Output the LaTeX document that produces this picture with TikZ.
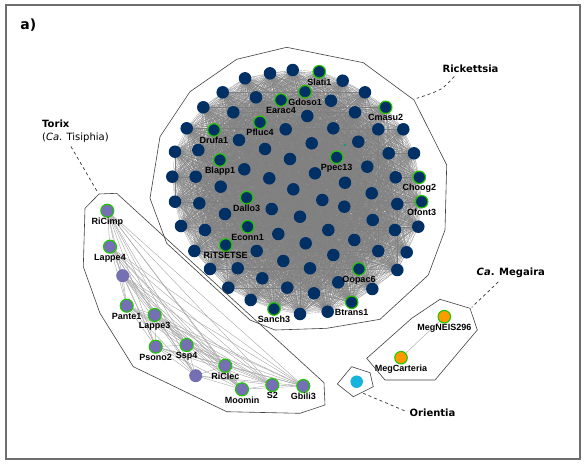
\documentclass[tikz,border=0pt]{standalone}
\usepackage{fontspec}
\setmainfont{DejaVu Sans}
\newfontfamily\arialfont{Liberation Sans}
\usepackage{tikz}
\usetikzlibrary{positioning,backgrounds}
\pgfdeclarelayer{background}
\pgfsetlayers{background,main}
\definecolor{rickblue}{RGB}{0,48,100}
\definecolor{torixpurple}{RGB}{117,112,179}
\definecolor{megorange}{RGB}{255,155,0}
\definecolor{orientcyan}{RGB}{20,180,220}
\definecolor{ringgreen}{RGB}{30,200,0}
\definecolor{dotgreen}{RGB}{27,158,119}
\definecolor{framegray}{RGB}{110,110,110}

\begin{document}
\begin{tikzpicture}[
  x=1pt, y=-1pt,
  label distance=-1pt,
  rnode/.style={circle,fill=rickblue,minimum size=12.5pt,inner sep=0pt},
  tnode/.style={circle,fill=torixpurple,minimum size=13pt,inner sep=0pt},
  mnode/.style={circle,fill=megorange,minimum size=12.5pt,inner sep=0pt},
  onode/.style={circle,fill=orientcyan,minimum size=12.5pt,inner sep=0pt},
  hl/.style={draw=ringgreen,line width=1.1pt},
  plain/.style={},
  nlabel/.style={font=\arialfont\bfseries\fontsize{9}{9}\selectfont,
    inner sep=1pt,text height=6.5pt,text depth=0pt},
  redge/.style={draw=black!50,line width=0.15pt},
  tedge/.style={draw=gray!70,line width=0.4pt},
  hull/.style={draw=black!75,line width=0.6pt},
  leader/.style={draw=black!80,dashed,line width=0.7pt},
  grouplabel/.style={font=\bfseries\fontsize{10}{12}\selectfont,inner sep=1pt}
]
\useasboundingbox (0,0) rectangle (586,464);
\draw[framegray,line width=2pt] (6,5) rectangle (580,459);
\node[font=\bfseries\fontsize{14}{16}\selectfont] (panel) at (28.3,25) {a)};

% Rickettsia
\foreach \x/\y [count=\i] in {
  270/73.3, 292.7/70, 342.7/80.7, 245/78.3, 222.7/92.3, 256/97.3,
  331/100.7, 365/92.3, 203.3/107.3, 233.3/112.3, 307.3/116, 355/112.3,
  186.7/128.3, 285.7/129.3, 333.3/128.3, 378.3/129.3, 403.3/129.3,
  175/151.7, 198.3/150, 239/140, 265/149, 311.7/143.3, 358.3/141.7,
  388.7/153.3, 414/153.3, 244.3/169.3, 290/159, 367.3/166.7,
  172.3/176.7, 195.7/176.7, 269.3/178.3, 315/173.3, 345/182.7,
  395.7/177.3, 220.7/186.7, 293.3/189.3, 371.7/193.3, 175/201.7,
  199.3/203.3, 271.7/209, 322.3/200, 344.3/206.7, 397.3/204,
  225/214, 300/216.7, 372.7/220, 181/226, 205/230, 278.3/234,
  328.3/230, 395/230, 418.3/226.7, 194.3/251, 256.7/251, 305.7/243.3,
  354.3/240, 333.3/255, 378.3/251, 406.7/252.3, 210/269, 237.7/268.3,
  283.3/261, 310/268.3, 397.3/270, 228.3/287.7, 262.3/278.3,
  287.3/287.7, 338.3/282.3, 372.3/289, 314/293.3, 250.7/300,
  300/314, 327.7/311.7}
  \node[rnode] (r\i) at (\x,\y) {};
\foreach \x/\y/\t [count=\i from 74] in {
  319.3/71.7/Slati1, 305/91.7/Gdoso1, 281/100/Earac4, 385.7/107.3/Cmasu2,
  214/130/Drufa1, 260/122.3/Pfluc4, 220/160/Blapp1, 336.7/157.3/Ppec13,
  419.3/177.3/Choog2, 421.7/201.7/Ofont3, 246.7/197.7/Dallo3,
  247.7/226.7/Econn1, 225.7/245/RiTSETSE, 359/269/Oopac6,
  274/309/Sanch3, 351.7/302.3/Btrans1}
  \node[rnode,hl,label={[nlabel]below:\t}] (r\i) at (\x,\y) {};
\node[circle,fill=dotgreen,minimum size=3pt,inner sep=0pt] (rdot) at (345,145) {};

\begin{pgfonlayer}{background}
  \foreach \i in {2,...,89} {
    \pgfmathtruncatemacro\k{\i-1}
    \foreach \j in {1,...,\k}
      \draw[redge] (r\i.center) -- (r\j.center);
  }
\end{pgfonlayer}

\draw[hull] (236.7,59.3) -- (286.7,47.3) -- (363.3,62.7) -- (414,100)
  -- (446.7,165) -- (445,230) -- (428.3,275) -- (380,319.3)
  -- (326.7,328.3) -- (275,330) -- (250,320) -- (166.7,243.3)
  -- (150,198.3) -- (160,136.7) -- (190,91.7) -- cycle;
\node[grouplabel] (ricklab) at (470.5,68.3) {Rickettsia};
\coordinate (rickend) at (416.7,98.3);
\draw[leader] ([shift={(13,3)}]ricklab.south west)
  .. controls (442,90) .. (rickend);

% Torix
\foreach \x/\y/\t/\s [count=\i] in {
  107.3/210.7/RiCimp/hl, 110/246.7/Lappe4/hl, 122.7/275.7//plain,
  126.7/305.7/Pante1/hl, 154.7/315/Lappe3/hl, 155.7/346.7/Psono2/hl,
  186.7/345/Ssp4/hl, 225.3/365.7/RiClec/hl, 195.7/375.7//plain,
  242/389.3/Moomin/hl, 272.3/385/S2/hl, 303.3/386/Gbili3/hl}
  \node[tnode,\s,label={[nlabel]below:\t}] (t\i) at (\x,\y) {};
\begin{pgfonlayer}{background}
  \foreach \i in {2,...,12} {
    \pgfmathtruncatemacro\k{\i-1}
    \foreach \j in {1,...,\k}
      \draw[tedge] (t\i.center) -- (t\j.center);
  }
\end{pgfonlayer}
\draw[hull] (99,194) -- (116.7,193.3) -- (324,382.7) -- (325,405)
  -- (300,413.3) -- (226.7,411.7) -- (133.3,366.7) -- (100,313.3)
  -- (83.3,266.7) -- (85,208.3) -- cycle;
\node[anchor=north west,align=left,inner sep=1pt,font=\fontsize{10}{13}\selectfont]
  (torlab) at (41,118.5) {\textbf{Torix}\\(\textit{Ca}. Tisiphia)};
\coordinate (torend) at (97.3,191.7);
\draw[leader] ([shift={(30,3)}]torlab.south west) -- (torend);

% Ca. Megaira
\node[mnode,hl,label={[nlabel]below:MegNEIS296}] (mneis) at (444.3,316.7) {};
\node[mnode,hl,label={[nlabel]below:MegCarteria}] (mcart) at (401,357.7) {};
\begin{pgfonlayer}{background}
  \draw[draw=gray!60,line width=0.5pt] (mneis) -- (mcart);
\end{pgfonlayer}
\draw[hull] (440,299.3) -- (470,308.3) -- (477.3,330) -- (435,380)
  -- (385,380) -- (366.7,358.3) -- (411.7,318.3) -- cycle;
\node[grouplabel] (meglab) at (510.8,272.7) {\textit{Ca}. Megaira};
\coordinate (megend) at (471.7,307.3);
\draw[leader] ([shift={(23,3)}]meglab.south west) -- (megend);

% Orientia
\node[onode] (orient) at (356.7,381.7) {};
\draw[hull] (351.7,366.7) -- (370,372.7) -- (373.3,386.7) -- (353.3,396.7)
  -- (337.3,384) -- cycle;
\node[grouplabel] (orilab) at (432.5,412.7) {Orientia};
\coordinate (oriend) at (363.3,393.3);
\draw[leader] ([shift={(-4,-2)}]orilab.west) -- (oriend);
\end{tikzpicture}
\end{document}
